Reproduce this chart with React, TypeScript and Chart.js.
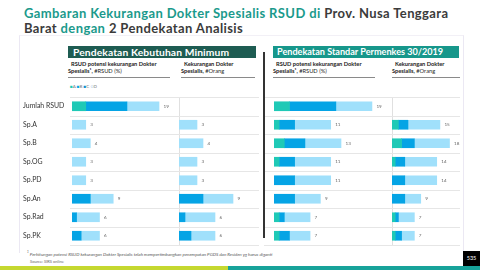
import React, { useEffect, useRef } from "react";
import { Chart, registerables } from "chart.js";
Chart.register(...registerables);

const rows = ["Jumlah RSUD", "Sp.A", "Sp.B", "Sp.OG", "Sp.PD", "Sp.An", "Sp.Rad", "Sp.PK"];
const seriesNames = ["A", "B", "C"];
const colors = ["#1fc9b6", "#05a4e5", "#a0e0fb"];

// Pendekatan Kebutuhan Minimum: RSUD potensi kekurangan (#RSUD)
const minRsudA = [3, 0, 0, 0, 0, 0, 0, 0];
const minRsudB = [9, 0, 0, 0, 0, 4, 1, 2];
const minRsudC = [7, 3, 4, 3, 3, 5, 5, 4];
// Pendekatan Kebutuhan Minimum: Kekurangan Dokter Spesialis (#Orang)
const minOrangA = [null, 0, 0, 0, 0, 0, 0, 0];
const minOrangB = [null, 0, 0, 0, 0, 4, 1, 2];
const minOrangC = [null, 3, 4, 3, 3, 5, 5, 4];
// Pendekatan Standar Permenkes 30/2019: RSUD potensi kekurangan (#RSUD)
const stdRsudA = [3, 1, 2, 1, 0, 0, 1, 1];
const stdRsudB = [9, 3, 4, 3, 4, 4, 1, 2];
const stdRsudC = [7, 7, 7, 7, 7, 5, 5, 4];
// Pendekatan Standar Permenkes 30/2019: Kekurangan Dokter Spesialis (#Orang)
const stdOrangA = [null, 2, 3, 1, 0, 0, 1, 1];
const stdOrangB = [null, 3, 4, 3, 4, 4, 1, 2];
const stdOrangC = [null, 10, 11, 10, 10, 5, 5, 4];

const FONT = "Lato, 'Open Sans', sans-serif";

const rowLines = (from: number, to: number) => ({
  id: "rowLines",
  beforeDatasetsDraw(chart: any) {
    const y = chart.scales.y;
    const ctx = chart.ctx;
    const step = y.getPixelForValue(1) - y.getPixelForValue(0);
    ctx.save();
    ctx.strokeStyle = "#e6e6e6";
    ctx.lineWidth = 1;
    for (let i = 0; i <= rows.length; i++) {
      const py = Math.round(y.getPixelForValue(i) - step / 2) + 0.5;
      ctx.beginPath();
      ctx.moveTo(from, py);
      ctx.lineTo(to, py);
      ctx.stroke();
    }
    ctx.restore();
  },
});

const valueLabels = {
  id: "valueLabels",
  afterDatasetsDraw(chart: any) {
    const { ctx } = chart;
    const x = chart.scales.x;
    const y = chart.scales.y;
    ctx.save();
    ctx.fillStyle = "#666";
    ctx.font = `4.6px ${FONT}`;
    ctx.textBaseline = "middle";
    rows.forEach((_, i) => {
      let total = 0;
      let has = false;
      chart.data.datasets.forEach((ds: any) => {
        const v = ds.data[i];
        if (v != null) {
          total += v;
          has = true;
        }
      });
      if (!has) return;
      ctx.fillText(String(total), x.getPixelForValue(total) + 4.5, y.getPixelForValue(i));
    });
    ctx.restore();
  },
};

type PanelProps = {
  left: number;
  width: number;
  axisWidth: number;
  max: number;
  data: (number | null)[][];
  showLabels: boolean;
  border: boolean;
  gridFrom: number;
  gridTo: number;
};

function Panel({ left, width, axisWidth, max, data, showLabels, border, gridFrom, gridTo }: PanelProps) {
  const ref = useRef<HTMLCanvasElement>(null);
  useEffect(() => {
    const chart = new Chart(ref.current as HTMLCanvasElement, {
      type: "bar",
      data: {
        labels: rows,
        datasets: data.map((d, i) => ({
          label: seriesNames[i],
          data: d.map((v) => (v ? v : null)) as any,
          backgroundColor: colors[i],
          barThickness: 9,
          borderWidth: 0,
        })),
      },
      options: {
        indexAxis: "y",
        responsive: false,
        animation: false,
        devicePixelRatio: 1,
        layout: { padding: { top: 1, bottom: 2, left: 0, right: 0 } },
        plugins: { legend: { display: false }, tooltip: { enabled: false } },
        scales: {
          x: { display: false, stacked: true, min: 0, max },
          y: {
            stacked: true,
            offset: true,
            grid: { display: false, drawTicks: false },
            border: { display: border, color: "#e0e0e0", width: 1 },
            ticks: {
              display: showLabels,
              crossAlign: "far",
              padding: 0,
              color: "#333",
              font: { family: FONT, size: 6.9 },
            },
            afterFit: (s: any) => {
              s.width = axisWidth;
              s.paddingTop = 0;
              s.paddingBottom = 0;
            },
          },
        },
      } as any,
      plugins: [rowLines(gridFrom, gridTo), valueLabels],
    });
    return () => chart.destroy();
  }, []);
  return (
    <canvas
      ref={ref}
      width={width}
      height={151}
      style={{ position: "absolute", left, top: 96, width, height: 151 }}
    />
  );
}

const abs = (s: React.CSSProperties): React.CSSProperties => ({ position: "absolute", ...s });

function SubHeader({ left, width, l1, l2b, l2 }: { left: number; width: number; l1: string; l2b: string; l2: string }) {
  return (
    <div
      style={abs({
        left,
        top: 60,
        width,
        height: 17,
        borderBottom: "1.5px solid #8a8a8a",
        fontSize: 5.7,
        lineHeight: "7px",
        color: "#222",
        fontFamily: FONT,
        whiteSpace: "nowrap",
      })}
    >
      <div style={{ fontWeight: 700, paddingLeft: 3 }}>{l1}</div>
      <div>
        <span style={{ fontWeight: 700 }}>{l2b}</span>
        <span>{l2}</span>
      </div>
    </div>
  );
}

export default function App() {
  const teal = "#1b9a8c";
  const dark = "#3b3b3b";
  return (
    <div style={{ position: "fixed", left: 0, top: 0, width: 480, height: 270, background: "#fff", overflow: "hidden", fontFamily: FONT }}>
      {/* slide frame */}
      <div style={abs({ left: 19, top: 35, width: 443, height: 217, borderLeft: "1px solid #ebe8f3", borderRight: "1px solid #ebe8f3", borderTop: "1px solid #f2f0f6" })} />
      {/* title */}
      <div style={abs({ left: 24, top: 6, fontSize: 13, letterSpacing: 0.38, lineHeight: "14.5px", fontWeight: 700, color: dark, whiteSpace: "nowrap" })}>
        <span style={{ color: teal }}>Gambaran Kekurangan Dokter Spesialis RSUD di</span> Prov. Nusa Tenggara
        <br />
        Barat <span style={{ color: teal }}>dengan</span> 2 Pendekatan Analisis
      </div>
      {/* panel headers */}
      <div style={abs({ left: 68, top: 46, width: 183, height: 12, paddingLeft: 5, background: "#1e5c52", color: "#fff", fontSize: 10.3, letterSpacing: 0.1, lineHeight: "12px", fontWeight: 700, whiteSpace: "nowrap" })}>
        Pendekatan Kebutuhan Minimum
      </div>
      <div style={abs({ left: 273, top: 46, width: 182, height: 12, paddingLeft: 4, background: "#17978b", color: "#fff", fontSize: 9.1, lineHeight: "12px", fontWeight: 700, whiteSpace: "nowrap" })}>
        Pendekatan Standar Permenkes 30/2019
      </div>
      <SubHeader left={68} width={102} l1="RSUD potensi kekurangan Dokter" l2b="Spesialis¹," l2=" #RSUD (%)" />
      <SubHeader left={181} width={74} l1="Kekurangan Dokter" l2b="Spesialis," l2=" #Orang" />
      <SubHeader left={273} width={102} l1="RSUD potensi kekurangan Dokter" l2b="Spesialis¹," l2=" #RSUD (%)" />
      <SubHeader left={392} width={68} l1="Kekurangan Dokter" l2b="Spesialis," l2=" #Orang" />
      {/* legend */}
      <div style={abs({ left: 70, top: 84, fontSize: 4.5, lineHeight: "6px", color: "#777", whiteSpace: "nowrap" })}>
        <span style={{ color: colors[0] }}>■</span>A <span style={{ color: colors[1] }}>■</span>B{" "}
        <span style={{ color: "#0b8fd0" }}>■</span>C <span style={{ color: "#a9c7e8" }}>○</span>D
      </div>
      {/* charts */}
      <Panel left={23} width={147} axisWidth={49} max={21.4} data={[minRsudA, minRsudB, minRsudC]} showLabels={true} border={false} gridFrom={47} gridTo={147} />
      <Panel left={170} width={90} axisWidth={9} max={13.5} data={[minOrangA, minOrangB, minOrangC]} showLabels={false} border={true} gridFrom={0} gridTo={89} />
      <Panel left={264} width={127} axisWidth={10} max={22.7} data={[stdRsudA, stdRsudB, stdRsudC]} showLabels={false} border={false} gridFrom={0} gridTo={127} />
      <Panel left={391} width={70} axisWidth={1} max={21.6} data={[stdOrangA, stdOrangB, stdOrangC]} showLabels={false} border={true} gridFrom={0} gridTo={69} />
      {/* vertical separator */}
      <div style={abs({ left: 263, top: 52, width: 1.5, height: 186, background: "#333" })} />
      {/* footnote */}
      <div style={abs({ left: 27, top: 250, fontSize: 4.5, lineHeight: "5px", fontStyle: "italic", color: "#555", whiteSpace: "nowrap" })}>
        <sup style={{ fontSize: 3 }}>1</sup> Perhitungan potensi RSUD kekurangan Dokter Spesialis telah mempertimbangkan penempatan PGDS dan Residen yg harus diganti
      </div>
      <div style={abs({ left: 30, top: 259, fontSize: 4, lineHeight: "5px", color: "#666", whiteSpace: "nowrap" })}>Source: SIRS online</div>
      {/* page number */}
      <div style={abs({ left: 463, top: 251, width: 17, height: 15, background: "#000", color: "#fff", fontSize: 5.5, lineHeight: "15px", textAlign: "center" })}>535</div>
      {/* bottom stripe */}
      <div style={abs({ left: 0, top: 266, width: 228, height: 4, background: "#c5d830" })} />
      <div style={abs({ left: 228, top: 266, width: 252, height: 4, background: "#17a39a" })} />
    </div>
  );
}
